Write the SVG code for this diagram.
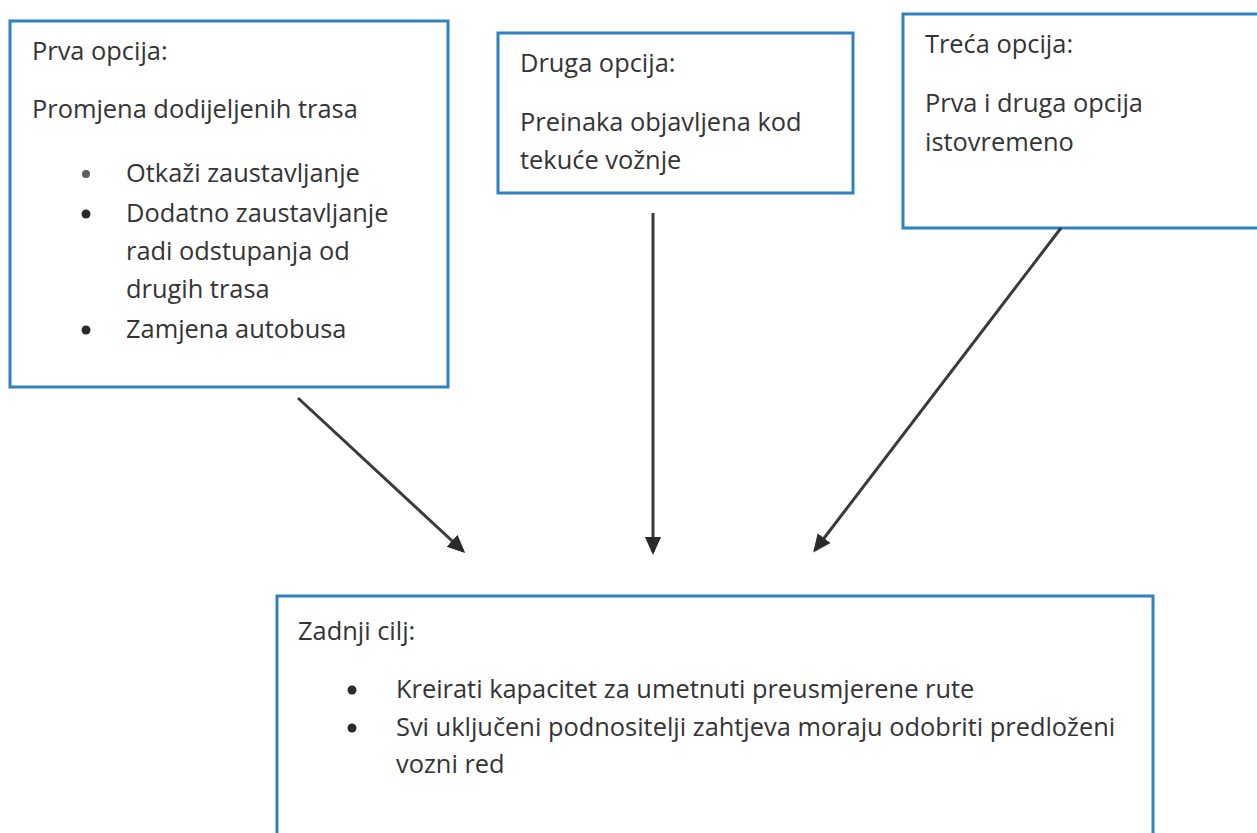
<svg xmlns="http://www.w3.org/2000/svg" width="1257" height="833" viewBox="0 0 1257 833">
<defs>
<style>
.box{fill:#fff;stroke:#2e82c4;stroke-width:3}
.t{font-family:"Open Sans",Lato,"Liberation Sans",sans-serif;font-size:25.4px;fill:#343434}
.b{fill:#2a2a2a}
.c{stroke:#3a3a3a;stroke-width:3;fill:none;marker-end:url(#ah)}
</style>
<marker id="ah" markerWidth="6" markerHeight="6" refX="5" refY="3" orient="auto" markerUnits="strokeWidth">
<path d="M0,0.3 L6,3 L0,5.7 z" fill="#2a2a2a"/>
</marker>
</defs>
<rect width="1257" height="833" fill="#fff"/>
<g id="node-prva">
<rect class="box" x="10" y="21" width="438" height="366"/>
<text class="t" x="32" y="60">Prva opcija:</text>
<text class="t" x="32" y="118">Promjena dodijeljenih trasa</text>
<circle class="b" cx="86" cy="174" r="4" opacity="0.75"/>
<text class="t" x="126" y="182">Otkaži zaustavljanje</text>
<circle class="b" cx="86" cy="214" r="4.5"/>
<text class="t" x="126" y="222">Dodatno zaustavljanje</text>
<text class="t" x="126" y="260">radi odstupanja od</text>
<text class="t" x="126" y="298">drugih trasa</text>
<circle class="b" cx="86" cy="330" r="4.5"/>
<text class="t" x="126" y="338">Zamjena autobusa</text>
</g>
<g id="node-druga">
<rect class="box" x="498" y="33" width="355" height="160"/>
<text class="t" x="520" y="72">Druga opcija:</text>
<text class="t" x="520" y="131">Preinaka objavljena kod</text>
<text class="t" x="520" y="169">tekuće vožnje</text>
</g>
<g id="node-treca">
<rect class="box" x="903" y="14" width="370" height="214"/>
<text class="t" x="925" y="53">Treća opcija:</text>
<text class="t" x="925" y="112">Prva i druga opcija</text>
<text class="t" x="925" y="151">istovremeno</text>
</g>
<g id="node-cilj">
<rect class="box" x="277" y="596" width="876" height="260"/>
<text class="t" x="298" y="640">Zadnji cilj:</text>
<circle class="b" cx="352" cy="690" r="4.5"/>
<text class="t" x="396" y="698">Kreirati kapacitet za umetnuti preusmjerene rute</text>
<circle class="b" cx="352" cy="728" r="4.5"/>
<text class="t" x="396" y="736">Svi uključeni podnositelji zahtjeva moraju odobriti predloženi</text>
<text class="t" x="396" y="773">vozni red</text>
</g>
<g id="connectors">
<line class="c" x1="298" y1="398" x2="463" y2="551"/>
<line class="c" x1="653" y1="213" x2="653" y2="552"/>
<line class="c" x1="1061" y1="228" x2="815" y2="550"/>
</g>
</svg>
